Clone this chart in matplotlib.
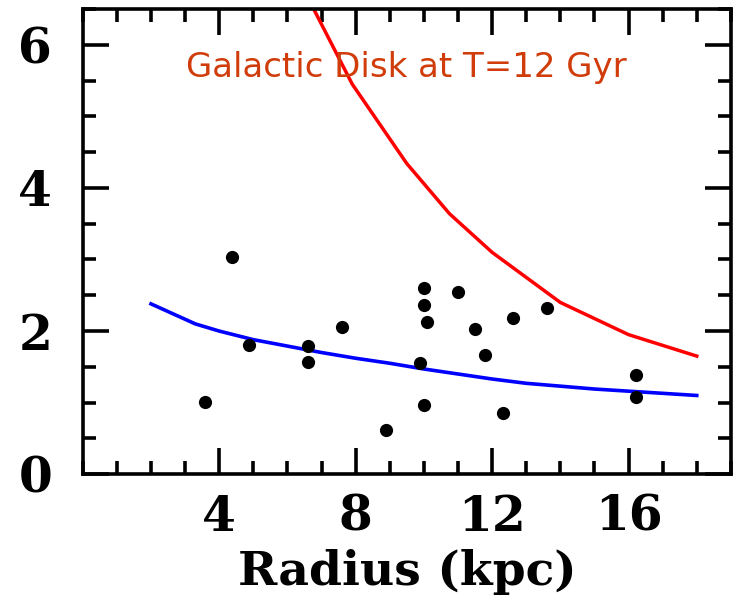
import numpy as np
import matplotlib
matplotlib.use("Agg")
import matplotlib.pyplot as plt
from matplotlib.ticker import FixedLocator, MultipleLocator

# observed points
obs_r = [4.38, 3.59, 4.88, 6.61, 6.59, 7.60, 8.89, 9.99, 9.99, 10.10,
         9.90, 9.99, 11.00, 11.50, 11.80, 12.61, 13.62, 12.32, 16.22, 16.23]
obs_v = [3.04, 1.01, 1.81, 1.79, 1.57, 2.05, 0.62, 2.60, 2.37, 2.13,
         1.56, 0.97, 2.55, 2.03, 1.67, 2.18, 2.32, 0.86, 1.38, 1.08]

# red model curve
red_r = [6.5, 7.9, 9.5, 10.75, 12.0, 14.0, 16.0, 18.0]
red_v = [6.75, 5.45, 4.34, 3.64, 3.10, 2.40, 1.95, 1.65]

# blue model curve
blue_r = [2.0, 3.3, 4.0, 5.0, 6.0, 7.0, 8.0, 9.0, 10.0, 11.0, 12.0, 13.0, 14.0, 15.0, 16.0, 17.0, 18.0]
blue_v = [2.38, 2.10, 2.00, 1.88, 1.79, 1.70, 1.62, 1.55, 1.47, 1.40, 1.33, 1.27, 1.23, 1.19, 1.16, 1.13, 1.10]

fig = plt.figure(figsize=(7.39, 6.01), dpi=100)
ax = fig.add_axes([0.112, 0.211, 0.877, 0.774])

ax.plot(red_r, red_v, color="#ff0000", lw=2.5, solid_joinstyle="round")
ax.plot(blue_r, blue_v, color="#0000ff", lw=2.6, solid_joinstyle="round")
ax.plot(obs_r, obs_v, "o", color="black", ms=9.5, mew=0)

ax.set_xlim(0, 19)
ax.set_ylim(0, 6.5)

ax.xaxis.set_major_locator(FixedLocator([4, 8, 12, 16]))
ax.xaxis.set_minor_locator(MultipleLocator(1))
ax.yaxis.set_major_locator(MultipleLocator(2))
ax.yaxis.set_minor_locator(MultipleLocator(0.5))

for s in ax.spines.values():
    s.set_linewidth(2.6)

ax.tick_params(which="both", direction="in", top=True, right=True, width=2.6)
ax.tick_params(which="major", length=19)
ax.tick_params(which="minor", length=9.5)
ax.tick_params(axis="x", which="major", pad=14)
ax.tick_params(axis="y", which="major", pad=22)

for lab in ax.get_xticklabels() + ax.get_yticklabels():
    lab.set_fontfamily("DejaVu Serif")
    lab.set_fontweight("bold")
    lab.set_fontsize(35)

ax.set_xlabel("Radius (kpc)", fontfamily="DejaVu Serif", fontweight="bold",
              fontsize=34, labelpad=6)

ax.text(0.5, 0.875, "Galactic Disk at T=12 Gyr", transform=ax.transAxes,
        ha="center", va="center", color="#d03c0a", fontsize=24.5,
        fontfamily="DejaVu Sans")

fig.savefig("out.png", dpi=100)
